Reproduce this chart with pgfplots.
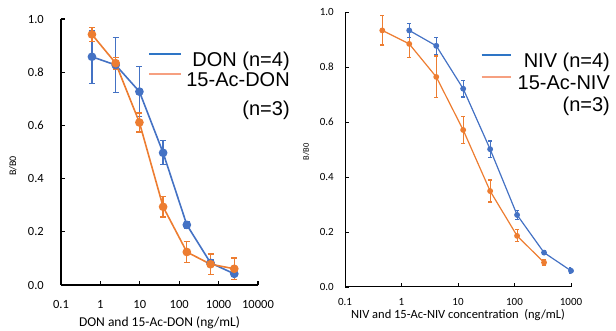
\documentclass[border=0pt]{standalone}
\usepackage{fontspec}
\setmainfont{Carlito}
\newfontfamily\arial{Liberation Sans}
\usepackage{pgfplots}
\usepackage{pgfplotstable}
\pgfplotsset{compat=1.18}
\definecolor{cblue}{HTML}{4472C4}
\definecolor{corange}{HTML}{ED7D31}
\definecolor{lblue}{HTML}{2E75C6}
\definecolor{lorange}{HTML}{F6A080}

\pgfplotstableread{
x y e
0.61 0.858 0.100
2.44 0.827 0.103
9.77 0.727 0.094
39.06 0.497 0.045
156.25 0.226 0.014
625 0.083 0.012
2500 0.042 0.010
}\don
\pgfplotstableread{
x y e
0.61 0.942 0.026
2.44 0.834 0.022
9.77 0.611 0.036
39.06 0.294 0.038
156.25 0.124 0.040
625 0.078 0.039
2500 0.061 0.040
}\acdon
\pgfplotstableread{
x y e
1.37 0.933 0.025
4.12 0.877 0.030
12.35 0.721 0.030
37.04 0.501 0.030
111.1 0.262 0.015
333.3 0.125 0.007
1000 0.059 0.010
}\niv
\pgfplotstableread{
x y e
0.457 0.933 0.053
1.37 0.884 0.048
4.12 0.764 0.076
12.35 0.571 0.050
37.04 0.349 0.040
111.1 0.186 0.022
333.3 0.089 0.012
}\acniv

\begin{document}
\begin{tikzpicture}
\useasboundingbox (0pt,0pt) rectangle (616pt,331pt);
% ---------------- left panel
\begin{axis}[
  at={(61pt,46pt)}, anchor=south west,
  scale only axis, width=197pt, height=266pt,
  xmode=log, xmin=0.1, xmax=10000, ymin=0, ymax=1,
  axis x line*=bottom, axis y line*=left,
  axis line style={-, line width=1.4pt, black},
  tick align=inside, major tick length=4pt,
  tick style={line width=1.2pt, black},
  xminorticks=false,
  xtick={0.1,1,10,100,1000,10000},
  xticklabels={0.1,1,10,100,1000,10000},
  ytick={0,0.2,0.4,0.6,0.8,1},
  yticklabels={0.0,0.2,0.4,0.6,0.8,1.0},
  xticklabel style={font=\fontsize{12.5}{13}\selectfont, anchor=center, inner sep=0pt, yshift=-19pt},
  yticklabel style={font=\fontsize{12.5}{13}\selectfont, anchor=east, inner sep=0pt, xshift=-17pt},
  xlabel={DON and 15-Ac-DON (ng/mL)},
  xlabel style={font=\fontsize{13.5}{14}\selectfont, at={(axis description cs:0.5,-0.1429)}, anchor=center, inner sep=0pt},
  ylabel={B/B0},
  ylabel style={font=\fontsize{10}{11}\selectfont, at={(axis description cs:-0.2437,0.447)}, anchor=center, inner sep=0pt},
  legend image code/.code={\draw[#1] (0pt,6pt) -- (32pt,6pt);},
  legend style={draw=none, fill=none, inner sep=0pt, font=\arial\fontsize{20}{22}\selectfont,
    at={(axis description cs:1.162,0.876)}, anchor=north east, row sep=4.5pt,
    nodes={inner sep=0pt}, column sep=4pt},
  legend cell align=right,
]
\addplot[cblue, line width=1.6pt, mark=*, mark size=3.5pt, forget plot,
  error bars/.cd, y dir=both, y explicit,
  error bar style={line width=1.3pt, cblue},
  error mark options={rotate=90, mark size=3pt, line width=1.3pt, cblue}]
  table[x=x, y=y, y error=e] {\don};
\addplot[corange, line width=1.6pt, mark=*, mark size=3.5pt, forget plot,
  error bars/.cd, y dir=both, y explicit,
  error bar style={line width=1.3pt, corange},
  error mark options={rotate=90, mark size=3pt, line width=1.3pt, corange}]
  table[x=x, y=y, y error=e] {\acdon};
\addlegendimage{lblue, line width=2pt}
\addlegendentry{DON (n=4)}
\addlegendimage{lorange, line width=2pt}
\addlegendentry{15-Ac-DON}
\addlegendimage{empty legend}
\addlegendentry{\rule{0pt}{22.5pt}(n=3)}
\end{axis}
% ---------------- right panel
\begin{axis}[
  at={(345pt,44pt)}, anchor=south west,
  scale only axis, width=226pt, height=275pt,
  xmode=log, xmin=0.1, xmax=1000, ymin=0, ymax=1,
  axis x line*=bottom, axis y line*=left,
  axis line style={-, line width=1pt, black},
  tick align=inside, major tick length=4pt,
  tick style={line width=0.9pt, black},
  xminorticks=false,
  xtick={0.1,1,10,100,1000},
  xticklabels={0.1,1,10,100,1000},
  ytick={0,0.2,0.4,0.6,0.8,1},
  yticklabels={0.0,0.2,0.4,0.6,0.8,1.0},
  xticklabel style={font=\fontsize{11}{12}\selectfont, anchor=center, inner sep=0pt, yshift=-15pt},
  yticklabel style={font=\fontsize{11}{12}\selectfont, anchor=east, inner sep=0pt, xshift=-11pt},
  xlabel={NIV and 15-Ac-NIV concentration\ \ (ng/mL)},
  xlabel style={font=\fontsize{12.5}{13}\selectfont, at={(axis description cs:0.5,-0.1018)}, anchor=center, inner sep=0pt},
  ylabel={B/B0},
  ylabel style={font=\fontsize{8.5}{9}\selectfont, at={(axis description cs:-0.1726,0.491)}, anchor=center, inner sep=0pt},
  legend image code/.code={\draw[#1] (0pt,6pt) -- (29pt,6pt);},
  legend style={draw=none, fill=none, inner sep=0pt, font=\arial\fontsize{20}{22}\selectfont,
    at={(axis description cs:1.173,0.851)}, anchor=north east, row sep=6.5pt,
    nodes={inner sep=0pt}, column sep=6pt},
  legend cell align=right,
]
\addplot[corange, line width=1.2pt, mark=*, mark size=2.3pt, forget plot,
  error bars/.cd, y dir=both, y explicit,
  error bar style={line width=1.1pt, corange},
  error mark options={rotate=90, mark size=2pt, line width=1.1pt, corange}]
  table[x=x, y=y, y error=e] {\acniv};
\addplot[cblue, line width=1.2pt, mark=*, mark size=2.3pt, forget plot,
  error bars/.cd, y dir=both, y explicit,
  error bar style={line width=1.1pt, cblue},
  error mark options={rotate=90, mark size=2pt, line width=1.1pt, cblue}]
  table[x=x, y=y, y error=e] {\niv};
\addlegendimage{lblue, line width=2pt}
\addlegendentry{NIV (n=4)}
\addlegendimage{lorange, line width=2pt}
\addlegendentry{15-Ac-NIV}
\addlegendimage{empty legend}
\addlegendentry{(n=3)}
\end{axis}
\end{tikzpicture}
\end{document}
